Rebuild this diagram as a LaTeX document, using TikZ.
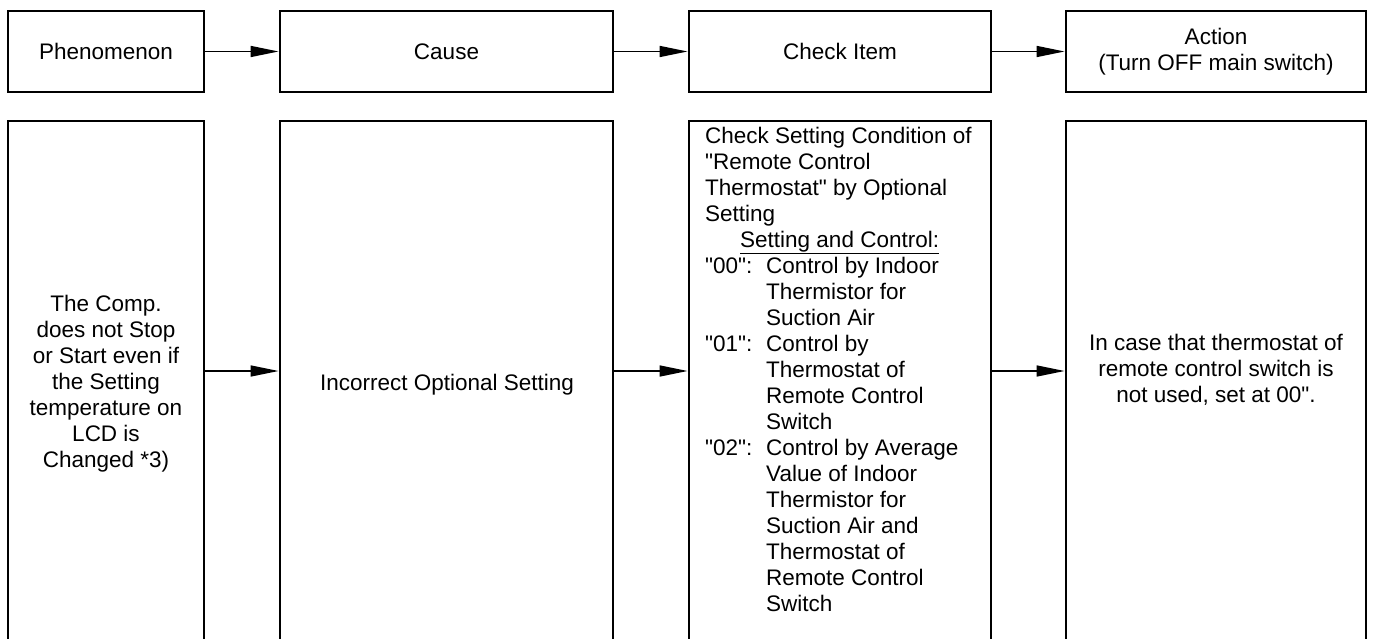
\documentclass[tikz,border=0pt]{standalone}
\usepackage{fontspec}
\setmainfont{Liberation Sans}[Ligatures=TeXOff]
\usetikzlibrary{arrows.meta}
\begin{document}
\begin{tikzpicture}[x=1pt,y=-1pt,
  every node/.style={font=\fontsize{22.5}{26}\selectfont, inner sep=0pt},
  box/.style={draw, line width=2.8pt, rectangle, inner sep=0pt},
  conn/.style={line width=1.5pt, -{Triangle[length=28pt,width=11pt]}},
  txt/.style={align=center}]
\useasboundingbox (0,0) rectangle (1373,639);
% top row
\node[box, minimum width=196pt, minimum height=81pt] (p) at (106,51.5) {Phenomenon};
\node[box, minimum width=333pt, minimum height=81pt] (c) at (446.5,51.5) {Cause};
\node[box, minimum width=302pt, minimum height=81pt] (k) at (840,51.5) {Check Item};
\node[box, minimum width=300pt, minimum height=81pt, align=center] (a) at (1216,51.5) {\raisebox{-2pt}{Action}\\\raisebox{-2pt}{(Turn OFF main switch)}};
\draw[conn] (p.east) -- (c.west);
\draw[conn] (c.east) -- (k.west);
\draw[conn] (k.east) -- (a.west);
% bottom row
\node[box, minimum width=196pt, minimum height=539pt] (pb) at (106,390.5) {};
\node[box, minimum width=333pt, minimum height=539pt] (cb) at (446.5,390.5) {};
\node[box, minimum width=302pt, minimum height=539pt] (kb) at (840,390.5) {};
\node[box, minimum width=300pt, minimum height=539pt] (ab) at (1216,390.5) {};
\coordinate (ar) at (0,371);
\draw[conn] (pb.east |- ar) -- (cb.west |- ar);
\draw[conn] (cb.east |- ar) -- (kb.west |- ar);
\draw[conn] (kb.east |- ar) -- (ab.west |- ar);
% texts
\node[txt, anchor=north] (pt) at (106,294.7) {The Comp.\\does not Stop\\or Start even if\\the Setting\\temperature on\\LCD is\\Changed *3)};
\node[anchor=base] (ct) at (447,390) {Incorrect Optional Setting};
\node[align=left, anchor=north west] (kt) at (705,126.6) {Check Setting Condition of\\
"Remote Control\\
Thermostat" by Optional\\
Setting\\
\hspace*{35pt}\underline{Setting and Control:}\\
\makebox[61pt][l]{"00":}Control by Indoor\\
\hspace*{61pt}Thermistor for\\
\hspace*{61pt}Suction Air\\
\makebox[61pt][l]{"01":}Control by\\
\hspace*{61pt}Thermostat of\\
\hspace*{61pt}Remote Control\\
\hspace*{61pt}Switch\\
\makebox[61pt][l]{"02":}Control by Average\\
\hspace*{61pt}Value of Indoor\\
\hspace*{61pt}Thermistor for\\
\hspace*{61pt}Suction Air and\\
\hspace*{61pt}Thermostat of\\
\hspace*{61pt}Remote Control\\
\hspace*{61pt}Switch};
\node[txt, anchor=north] (at) at (1216,333.7) {In case that thermostat of\\remote control switch is\\not used, set at 00".};
\end{tikzpicture}
\end{document}
